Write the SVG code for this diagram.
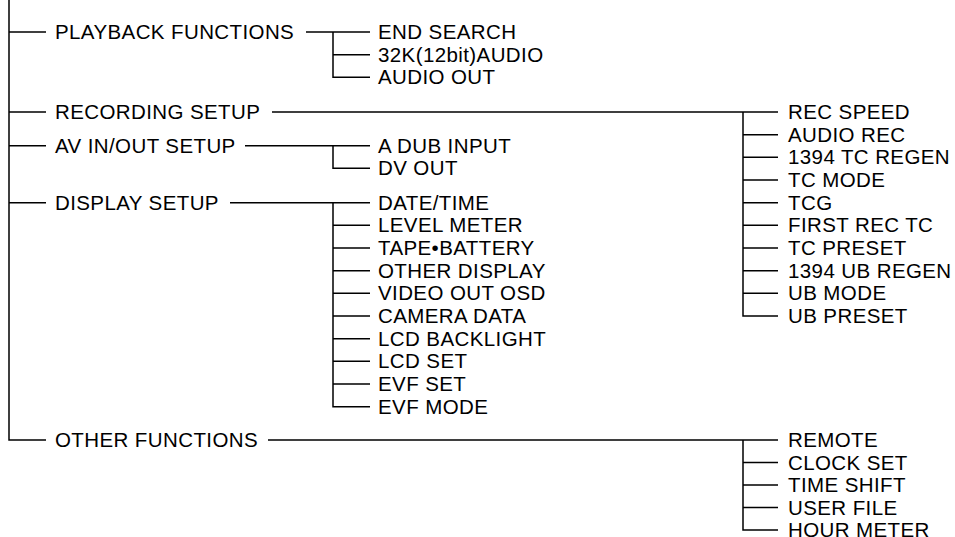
<svg xmlns="http://www.w3.org/2000/svg" width="955" height="537" viewBox="0 0 955 537">
<style>
text{font-family:"Liberation Sans",Arial,sans-serif;font-size:20.5px;letter-spacing:0.4px;fill:#000}
.c{stroke:#000;stroke-width:1.5;fill:none}
</style>
<rect width="955" height="537" fill="#fff"/>
<g id="connectors" class="c">
<path d="M9 0V440H46"/>
<path d="M9 32H46M9 112H46M9 145.7H46M9 202.7H46"/>
<path d="M306 32H370M333 32V77.3H370M333 54.7H370"/>
<path d="M272 112H778M743 112V316H778M743 134.7H778M743 157.3H778M743 180H778M743 202.7H778M743 225.3H778M743 248H778M743 270.7H778M743 293.3H778"/>
<path d="M245 145.7H370M333 145.7V168.3H370"/>
<path d="M230 202.7H370M333 202.7V406.7H370M333 225.3H370M333 248H370M333 270.7H370M333 293.3H370M333 316H370M333 338.7H370M333 361.3H370M333 384H370"/>
<path d="M268 440H778M743 440V530H778M743 462.5H778M743 485H778M743 507.5H778"/>
</g>
<g id="playback"><text x="55" y="39">PLAYBACK FUNCTIONS</text></g>
<g id="playback-children">
<text x="378" y="39">END SEARCH</text>
<text x="378" y="61.7">32K(12bit)AUDIO</text>
<text x="378" y="84.3">AUDIO OUT</text>
</g>
<g id="recording"><text x="55" y="119">RECORDING SETUP</text></g>
<g id="recording-children">
<text x="788" y="119">REC SPEED</text>
<text x="788" y="141.7">AUDIO REC</text>
<text x="788" y="164.3">1394 TC REGEN</text>
<text x="788" y="187">TC MODE</text>
<text x="788" y="209.7">TCG</text>
<text x="788" y="232.3">FIRST REC TC</text>
<text x="788" y="255">TC PRESET</text>
<text x="788" y="277.7">1394 UB REGEN</text>
<text x="788" y="300.3">UB MODE</text>
<text x="788" y="323">UB PRESET</text>
</g>
<g id="avinout"><text x="55" y="152.7">AV IN/OUT SETUP</text></g>
<g id="avinout-children">
<text x="378" y="152.7">A DUB INPUT</text>
<text x="378" y="175.3">DV OUT</text>
</g>
<g id="display"><text x="55" y="209.7">DISPLAY SETUP</text></g>
<g id="display-children">
<text x="378" y="209.7">DATE/TIME</text>
<text x="378" y="232.3">LEVEL METER</text>
<text x="378" y="255">TAPE•BATTERY</text>
<text x="378" y="277.7">OTHER DISPLAY</text>
<text x="378" y="300.3">VIDEO OUT OSD</text>
<text x="378" y="323">CAMERA DATA</text>
<text x="378" y="345.7">LCD BACKLIGHT</text>
<text x="378" y="368.3">LCD SET</text>
<text x="378" y="391">EVF SET</text>
<text x="378" y="413.7">EVF MODE</text>
</g>
<g id="other"><text x="55" y="447">OTHER FUNCTIONS</text></g>
<g id="other-children">
<text x="788" y="447">REMOTE</text>
<text x="788" y="469.5">CLOCK SET</text>
<text x="788" y="492">TIME SHIFT</text>
<text x="788" y="514.5">USER FILE</text>
<text x="788" y="537">HOUR METER</text>
</g>
</svg>
